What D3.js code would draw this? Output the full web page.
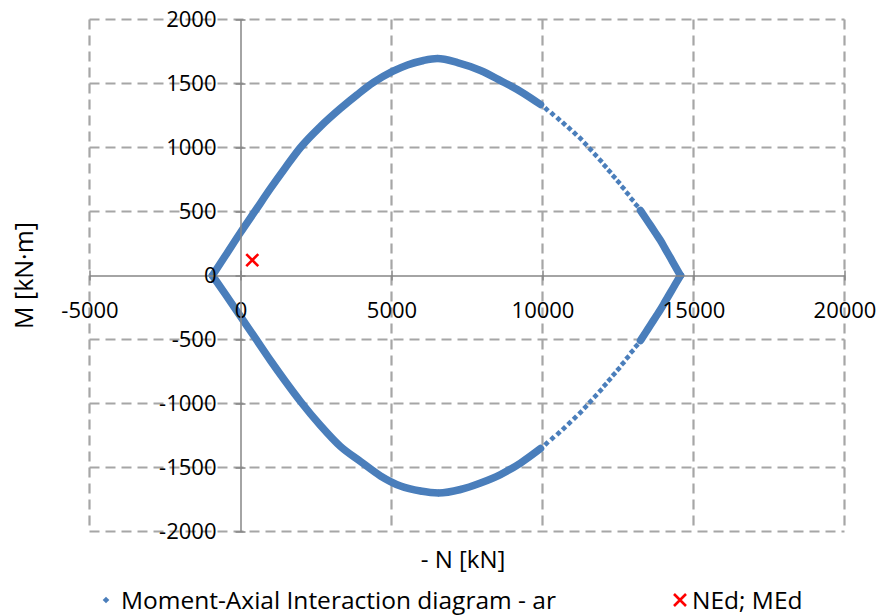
<!DOCTYPE html>
<html><head><meta charset="utf-8">
<script src="https://cdn.jsdelivr.net/npm/d3@7"></script>
<style>
html,body{margin:0;padding:0;background:#fff;}
svg text{font-family:"Open Sans",sans-serif;fill:#000;}
</style></head>
<body>
<svg id="chart" width="880" height="616"></svg>
<script>
// ---- data ----
// upper branch of the interaction diagram, from left tip to right tip
const upperN = [-930,-497,0,497,993,1490,1987,2649,3311,3874,4404,5033,5530,6060,6523,7185,7947,8609,9272,9934,
  10132,10331,10530,10712,10894,11076,11258,11424,11589,11755,11921,12070,12219,12368,12517,12666,12815,12964,13113,
  13245,13411,13576,13742,13907,14073,14238,14404,14570];
const upperM = [0,156,336,508,680,844,1000,1164,1305,1414,1508,1594,1645,1680,1695,1664,1602,1523,1438,1336,
  1298,1261,1223,1186,1148,1109,1070,1027,984,941,898,856,814,772,730,685,640,594,548,
  508,449,391,332,273,205,137,68,0];
// lower branch, from left tip to right tip
const lowerN = [-930,-497,0,497,993,1490,1987,2649,3311,3974,4636,5298,5960,6556,7285,7947,8609,9272,9934,
  10132,10331,10530,10712,10894,11076,11258,11424,11589,11755,11921,12070,12219,12368,12517,12666,12815,12964,13113,
  13245,13411,13576,13742,13907,14073,14238,14404,14570];
const lowerM = [0,-148,-320,-492,-664,-828,-984,-1172,-1336,-1453,-1566,-1645,-1684,-1699,-1672,-1621,-1555,-1465,-1352,
  -1312,-1272,-1232,-1193,-1152,-1111,-1070,-1027,-984,-941,-898,-856,-814,-772,-730,-686,-640,-594,-548,
  -508,-447,-387,-326,-266,-199,-133,-66,0];
// design load
const NEd = [390];
const MEd = [120];
// axis ticks
const xTicks = [-5000,0,5000,10000,15000,20000];
const yTicks = [-2000,-1500,-1000,-500,0,500,1000,1500,2000];
const seriesNames = ["Moment-Axial Interaction diagram - ar","NEd; MEd"];

// ---- drawing ----
const blue = "#4a7ebb", red = "#ff0000", gridCol = "#a6a6a6", axisCol = "#868686";
const svg = d3.select("#chart");
svg.append("rect").attr("width",880).attr("height",616).attr("fill","#fff");

const x = d3.scaleLinear().domain([-5000,20000]).range([89.5,844.5]);
const y = d3.scaleLinear().domain([-2000,2000]).range([531.5,19.5]);

// grid
const grid = svg.append("g").attr("stroke",gridCol).attr("stroke-width",2.2).attr("stroke-dasharray","10,6").attr("fill","none");
xTicks.filter(d=>d!==0).forEach(d=>{
  grid.append("line").attr("x1",x(d)).attr("x2",x(d)).attr("y1",y(2000)).attr("y2",y(-2000));
});
yTicks.filter(d=>d!==0).forEach(d=>{
  grid.append("line").attr("x1",x(-5000)).attr("x2",x(20000)).attr("y1",y(d)).attr("y2",y(d));
});

// data layer
const dataG = svg.append("g");
const isDense = n => n <= 10000 || n >= 13200;
function drawBranch(Ns, Ms){
  const pts = Ns.map((n,i)=>({n, m:Ms[i]}));
  const segs = [];
  let cur = [];
  pts.forEach(p=>{
    if(isDense(p.n)){ cur.push(p); } else { if(cur.length>1) segs.push(cur); cur=[]; }
  });
  if(cur.length>1) segs.push(cur);
  const line = d3.line().x(d=>x(d.n)).y(d=>y(d.m)).curve(d3.curveMonotoneX);
  segs.forEach(s=>{
    dataG.append("path").attr("d",line(s)).attr("fill","none").attr("stroke",blue)
      .attr("stroke-width",7.5).attr("stroke-linecap","round").attr("stroke-linejoin","round");
  });
  dataG.selectAll(null).data(pts).enter().append("path")
    .attr("d", d3.symbol().type(d3.symbolSquare).size(d=>isDense(d.n)?28:21))
    .attr("transform", d=>`translate(${x(d.n)},${y(d.m)}) rotate(45)`)
    .attr("fill", blue);
}
drawBranch(upperN, upperM);
drawBranch(lowerN, lowerM);

const cross = "M-6,-6L6,6M-6,6L6,-6";
dataG.selectAll(null).data(NEd.map((n,i)=>({n, m:MEd[i]}))).enter().append("path")
  .attr("d",cross).attr("transform",d=>`translate(${x(d.n)},${y(d.m)})`)
  .attr("stroke",red).attr("stroke-width",2.6).attr("fill","none");

// axes (lines + crossing ticks), drawn above the data like the reference
const xAxis = svg.append("g").attr("transform",`translate(0,${y(0)})`)
  .call(d3.axisBottom(x).tickValues(xTicks).tickSize(5).tickSizeOuter(0).tickPadding(22));
const yAxis = svg.append("g").attr("transform",`translate(${x(0)},0)`)
  .call(d3.axisLeft(y).tickValues(yTicks).tickSize(5).tickSizeOuter(0).tickPadding(19));
[xAxis,yAxis].forEach(a=>{
  a.select(".domain").attr("stroke",axisCol).attr("stroke-width",1.5);
  a.selectAll(".tick line").attr("stroke",axisCol).attr("stroke-width",1.5);
  a.selectAll("text").attr("font-size",22).attr("fill","#000").attr("font-family","'Open Sans',sans-serif")
    .text(d=>String(d));
});
xAxis.selectAll(".tick line").attr("y1",-5).attr("y2",5);
yAxis.selectAll(".tick line").attr("x1",-5).attr("x2",5);

// axis titles
svg.append("text").attr("x",(x(-5000)+x(20000))/2 - 4).attr("y",568).attr("text-anchor","middle")
  .attr("font-size",24).text("- N [kN]");
svg.append("text").attr("transform",`translate(33,${y(0)}) rotate(-90)`).attr("text-anchor","middle")
  .attr("font-size",25).text("M [kN·m]");

// legend
const lg = svg.append("g");
lg.append("path").attr("d", d3.symbol().type(d3.symbolSquare).size(22))
  .attr("transform","translate(106,600) rotate(45)").attr("fill",blue);
lg.append("text").attr("x",121).attr("y",609).attr("font-size",24.5).text(seriesNames[0]);
lg.append("path").attr("d",cross).attr("transform","translate(680,600)")
  .attr("stroke",red).attr("stroke-width",2.6).attr("fill","none");
lg.append("text").attr("x",692).attr("y",609).attr("font-size",24.5).text(seriesNames[1]);
</script>
</body></html>
